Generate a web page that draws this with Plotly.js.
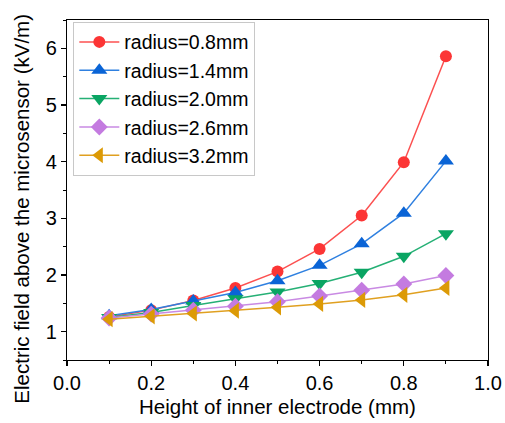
<!DOCTYPE html>
<html>
<head>
<meta charset="utf-8">
<script src="https://cdn.plot.ly/plotly-3.0.1.min.js"></script>
<style>html,body{margin:0;padding:0;background:#fff;}#chart{width:505px;height:423px;}</style>
</head>
<body>
<div id="chart"></div>
<script>
var heights = [0.1, 0.2, 0.3, 0.4, 0.5, 0.6, 0.7, 0.8, 0.9];
var names = ["radius=0.8mm", "radius=1.4mm", "radius=2.0mm", "radius=2.6mm", "radius=3.2mm"];
var r08 = [1.26, 1.38, 1.55, 1.77, 2.06, 2.46, 3.05, 3.99, 5.86];
var r14 = [1.28, 1.39, 1.54, 1.69, 1.90, 2.17, 2.55, 3.09, 4.01];
var r20 = [1.25, 1.34, 1.46, 1.58, 1.70, 1.85, 2.05, 2.33, 2.73];
var r26 = [1.24, 1.31, 1.38, 1.45, 1.53, 1.63, 1.73, 1.84, 1.99];
var r32 = [1.22, 1.27, 1.32, 1.37, 1.43, 1.49, 1.56, 1.65, 1.77];
var xTitle = "Height of inner electrode (mm)";
var yTitle = "Electric field above the microsensor (kV/m)";

var series = [r08, r14, r20, r26, r32];
var markerColors = ["#fc3535", "#0a64d6", "#0aa563", "#c47be0", "#dc9a06"];
var lineColors = ["#fc5050", "#2f80e0", "#25b075", "#c98ae3", "#e0a020"];
var symbols = ["circle", "triangle-up", "triangle-down", "diamond", "triangle-left"];
var sizes = [12, 14, 14, 13, 14];

var traces = series.map(function (ys, i) {
  return {
    x: heights, y: ys, name: names[i], type: "scatter", mode: "lines+markers",
    line: {color: lineColors[i], width: 1.5},
    marker: {color: markerColors[i], symbol: symbols[i], size: sizes[i], line: {width: 0}}
  };
});

var fam = "Liberation Sans, Arial, sans-serif";
var font = {family: fam, size: 20, color: "#000"};
var layout = {
  width: 505, height: 423,
  margin: {l: 67, r: 17, t: 20, b: 63},
  paper_bgcolor: "#fff", plot_bgcolor: "#fff",
  font: font,
  showlegend: true,
  legend: {
    x: 0.015, y: 0.995, xanchor: "left", yanchor: "top",
    bgcolor: "#fff", bordercolor: "#c8c8c8", borderwidth: 1,
    font: {family: fam, size: 19.5, color: "#000"},
    tracegroupgap: 0, itemwidth: 40
  },
  xaxis: {
    range: [0, 1], dtick: 0.2, tickformat: ".1f",
    showgrid: false, zeroline: false,
    showline: true, linecolor: "#000", linewidth: 1.2, mirror: true,
    ticks: "outside", ticklen: 5, tickwidth: 1.2, tickcolor: "#000",
    minor: {dtick: 0.1, ticks: "outside", ticklen: 3, tickwidth: 1, tickcolor: "#000"},
    title: {text: xTitle, font: {family: fam, size: 20.5, color: "#000"}, standoff: 6}
  },
  yaxis: {
    range: [0.5, 6.5], dtick: 1,
    showgrid: false, zeroline: false,
    showline: true, linecolor: "#000", linewidth: 1.2, mirror: true,
    ticks: "outside", ticklen: 5, tickwidth: 1.2, tickcolor: "#000",
    minor: {dtick: 0.5, ticks: "outside", ticklen: 3, tickwidth: 1, tickcolor: "#000"}
  },
  annotations: [{
    text: yTitle, textangle: -90, showarrow: false,
    xref: "paper", yref: "paper", x: -0.107, y: 0.445,
    xanchor: "center", yanchor: "middle",
    font: {family: fam, size: 20.5, color: "#000"}
  }]
};
Plotly.newPlot("chart", traces, layout, {staticPlot: true, displayModeBar: false});
</script>
</body>
</html>
